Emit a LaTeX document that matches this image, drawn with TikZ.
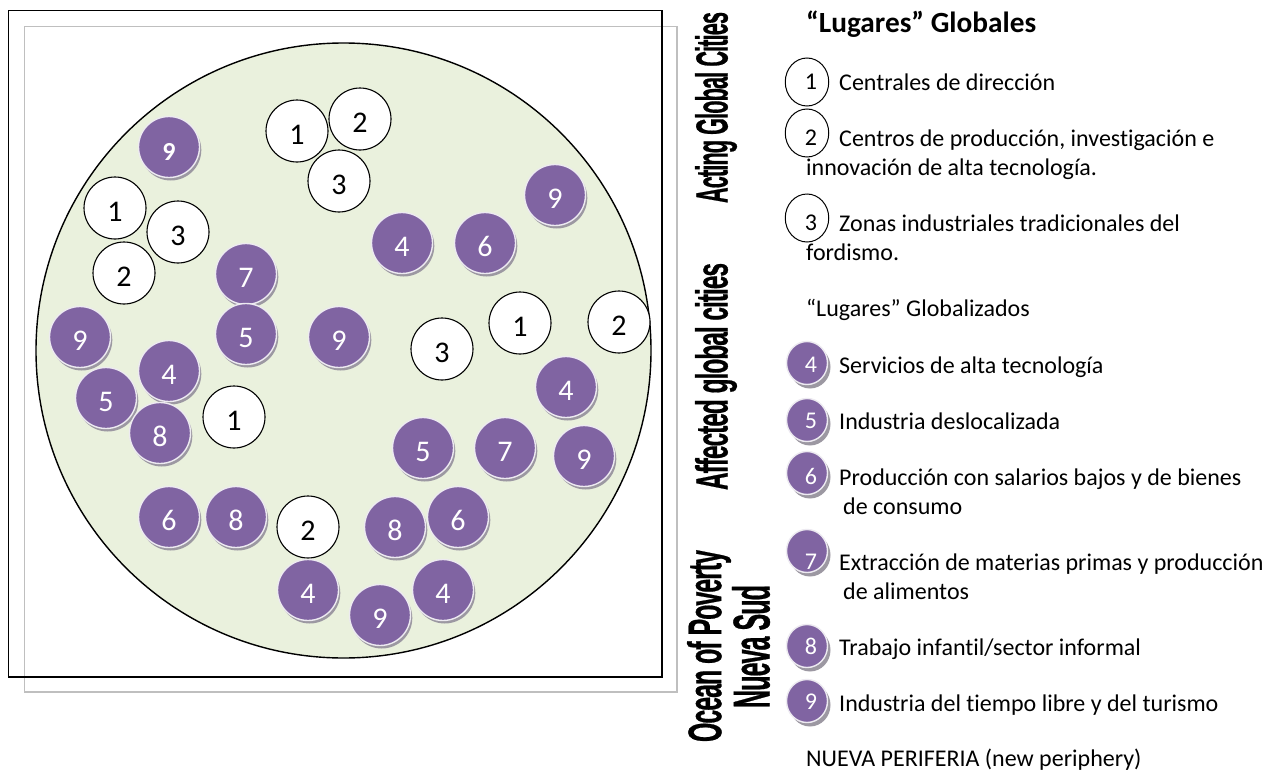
\documentclass[tikz,border=0pt]{standalone}
\usepackage{fontspec}
\setmainfont{Carlito}[Ligatures=NoCommon]
\newfontfamily\wordart[FakeBold=0.8,AutoFakeSlant=0.18,LetterSpace=-4]{Liberation Sans}
\definecolor{purp}{HTML}{8064A2}
\definecolor{halo}{HTML}{EDEAF1}
\definecolor{shad}{HTML}{9C98A2}
\definecolor{pale}{HTML}{EAF1DD}
\definecolor{frameg}{HTML}{BFBFBF}
\usetikzlibrary{shapes.geometric}
\tikzset{
 x=1pt,y=-1pt,
 whitec/.style={circle,draw=black,line width=1.1pt,fill=white,minimum size=62pt,inner sep=0pt,text height=27pt,text depth=0pt,font=\fontsize{30}{30}\selectfont},
 purpc/.style={circle,draw=halo,line width=1.4pt,fill=purp,text=white,minimum size=61pt,inner sep=0pt,text height=27pt,text depth=0pt,font=\fontsize{30}{30}\selectfont,
   preaction={draw=none,fill=shad,transform canvas={shift={(1.8pt,-3pt)}}}},
 legw/.style={ellipse,draw=black,line width=1pt,minimum width=43.5pt,minimum height=48pt,inner sep=0pt},
 legp/.style={ellipse,draw=halo,line width=1.4pt,fill=purp,minimum width=41pt,minimum height=43pt,inner sep=0pt,
   preaction={draw=none,fill=shad,transform canvas={shift={(3pt,-4pt)}}}},
 legnum/.style={anchor=base,inner sep=0pt,font=\fontsize{24}{24}\selectfont},
 legt/.style={anchor=base west,inner sep=0pt,font=\fontsize{24}{24}\selectfont},
 side/.style={rotate=90,inner sep=0pt,anchor=center},
}
\newcommand{\sidetext}[3]{\resizebox*{#1pt}{#2pt}{\wordart\bfseries #3}}
\begin{document}
\begin{tikzpicture}
\useasboundingbox (0,0) rectangle (1269,771);
\fill[white] (0,0) rectangle (1269,771);
\draw[frameg,line width=1.3pt] (24.5,26.5) rectangle (677,692);
\draw[black,line width=1.3pt] (8.5,10.5) rectangle (662,677);
\node[circle,draw=black,line width=1.4pt,fill=pale,minimum size=615pt,inner sep=0pt] (world) at (343.5,350.5) {};
% white
\node[whitec] (w1) at (297,131) {1};
\node[whitec] (w2) at (360,119) {2};
\node[whitec] (w3) at (339,181) {3};
\node[whitec] (w4) at (115,208) {1};
\node[whitec] (w5) at (178,232) {3};
\node[whitec] (w6) at (124,273) {2};
\node[whitec] (w7) at (234,417) {1};
\node[whitec] (w8) at (442,349) {3};
\node[whitec] (w9) at (520,323) {1};
\node[whitec] (w10) at (619,322) {2};
\node[whitec] (w11) at (308,527) {2};
% purple
\node[purpc,font=\fontsize{26}{26}\selectfont\bfseries] (p1) at (169,147) {9};
\node[purpc] (p2) at (246,274) {7};
\node[purpc] (p3) at (402,243) {4};
\node[purpc] (p4) at (485,243) {6};
\node[purpc] (p5) at (555,195) {9};
\node[purpc] (p6) at (246,334) {5};
\node[purpc] (p7) at (339,337) {9};
\node[purpc] (p8) at (80,337) {9};
\node[purpc] (p9) at (169,371) {4};
\node[purpc] (p10) at (106,398) {5};
\node[purpc] (p11) at (160,433) {8};
\node[purpc] (p12) at (566,387) {4};
\node[purpc] (p13) at (423,448) {5};
\node[purpc] (p14) at (505,448) {7};
\node[purpc] (p15) at (584,456) {9};
\node[purpc] (p16) at (169,517) {6};
\node[purpc] (p17) at (236,517) {8};
\node[purpc] (p18) at (395,527) {8};
\node[purpc] (p19) at (458,517) {6};
\node[purpc] (p20) at (308,590) {4};
\node[purpc] (p21) at (443,590) {4};
\node[purpc] (p22) at (380,615) {9};
% side labels
\node[side] (s1) at (716,107.5) {\sidetext{191}{42}{Acting Global Cities}};
\node[side] (s2) at (716,376.5) {\sidetext{227}{42}{Affected global cities}};
\node[side] (s3) at (709,646) {\sidetext{192}{44}{Ocean of Poverty}};
\node[side] (s4) at (751,646.5) {\sidetext{123}{38}{Nueva Sud}};
% legend
\node[anchor=base west,inner sep=0pt,font=\fontsize{29.3}{30}\selectfont\bfseries] (title) at (806,32) {“Lugares” Globales};
\node[legw] (l1) at (807,82) {};
\node[legw] (l2) at (807,133) {};
\node[legw] (l3) at (807,218) {};
\node[legp] (l4) at (807,363) {};
\node[legp] (l5) at (807,420) {};
\node[legp] (l6) at (807,473) {};
\node[legp] (l7) at (807,551) {};
\node[legp] (l8) at (807,646) {};
\node[legp] (l9) at (807,701) {};
\node[legnum] (n1) at (811,89) {1};
\node[legnum] (n2) at (811,145) {2};
\node[legnum] (n3) at (811,230) {3};
\node[legnum,text=white] (n4) at (811,372.5) {4};
\node[legnum,text=white] (n5) at (811,428.5) {5};
\node[legnum,text=white] (n6) at (811,484.5) {6};
\node[legnum,text=white] (n7) at (811,569.5) {7};
\node[legnum,text=white] (n8) at (811,654.5) {8};
\node[legnum,text=white] (n9) at (811,709.5) {9};
\node[legt] (t1) at (839,90) {Centrales de dirección};
\node[legt] (t2) at (839,146) {Centros de producción, investigación e};
\node[legt] (t2b) at (806,175) {innovación de alta tecnología.};
\node[legt] (t3) at (839,231) {Zonas industriales tradicionales del};
\node[legt] (t3b) at (806,260) {fordismo.};
\node[legt] (t0) at (806,316) {“Lugares” Globalizados};
\node[legt] (t4) at (839,373) {Servicios de alta tecnología};
\node[legt] (t5) at (839,429) {Industria deslocalizada};
\node[legt] (t6) at (839,485) {Producción con salarios bajos y de bienes};
\node[legt] (t6b) at (843,514) {de consumo};
\node[legt] (t7) at (839,570) {Extracción de materias primas y producción};
\node[legt] (t7b) at (843,599) {de alimentos};
\node[legt] (t8) at (839,655) {Trabajo infantil/sector informal};
\node[legt] (t9) at (839,711) {Industria del tiempo libre y del turismo};
\node[legt] (t10) at (806,766) {NUEVA PERIFERIA (new periphery)};
\end{tikzpicture}
\end{document}
